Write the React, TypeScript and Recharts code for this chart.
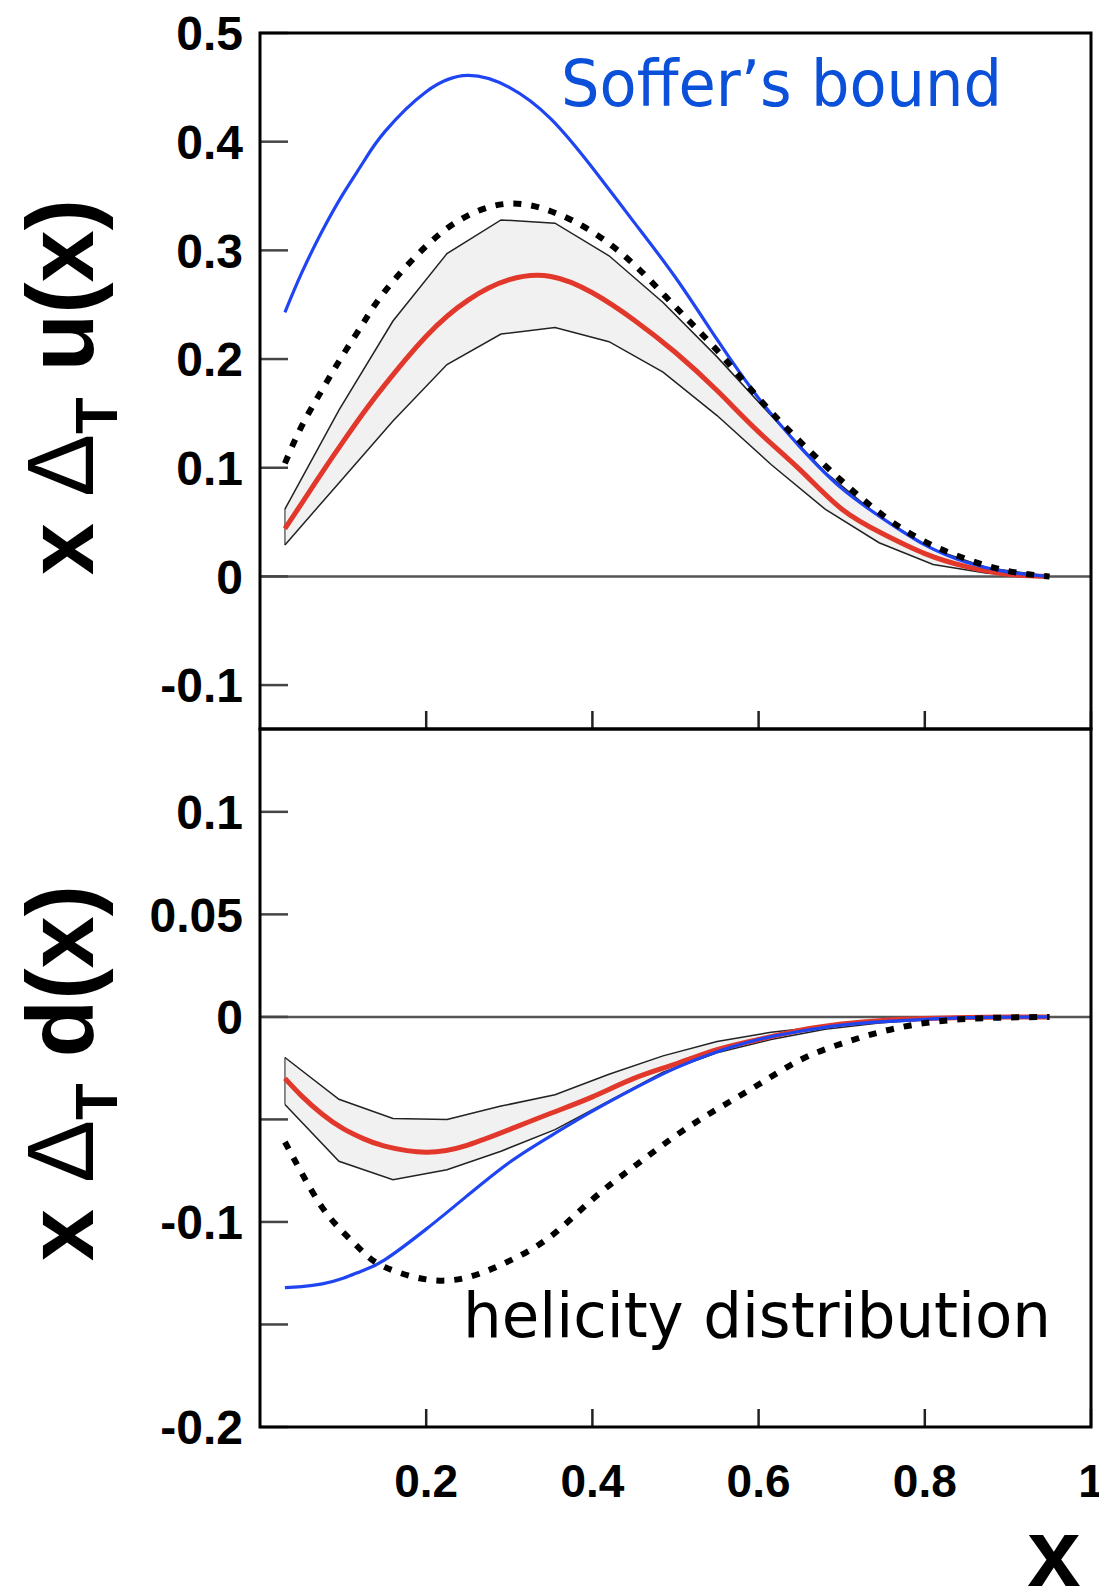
import React from "react";
import { ComposedChart, Line, Area, XAxis, YAxis, ReferenceLine, ReferenceArea } from "recharts";

const xGrid = [0.03, 0.05, 0.075, 0.1, 0.125, 0.15, 0.2, 0.25, 0.3, 0.35, 0.4, 0.45, 0.5, 0.55, 0.6, 0.65, 0.7, 0.75, 0.8, 0.85, 0.9, 0.95];
// x nodes of the error band (it is a polyline)
const bandX = [0.03, 0.095, 0.16, 0.225, 0.29, 0.355, 0.42, 0.485, 0.55, 0.615, 0.68, 0.745, 0.81, 0.875, 0.95];

// upper panel: x Delta_T u(x)
const sofferU = [0.243, 0.279, 0.318, 0.352, 0.382, 0.409, 0.446, 0.461, 0.45, 0.421, 0.376, 0.326, 0.275, 0.218, 0.164, 0.119, 0.081, 0.053, 0.029, 0.013, 0.004, 0];
const helicityU = [0.104, 0.138, 0.172, 0.204, 0.234, 0.262, 0.304, 0.332, 0.343, 0.336, 0.317, 0.287, 0.248, 0.208, 0.164, 0.124, 0.088, 0.056, 0.032, 0.016, 0.005, 0];
const centralU = [0.044, 0.067, 0.096, 0.124, 0.151, 0.176, 0.221, 0.254, 0.273, 0.276, 0.261, 0.236, 0.206, 0.171, 0.133, 0.098, 0.062, 0.039, 0.021, 0.009, 0.002, 0];
const bandHiU = [0.062, 0.153, 0.235, 0.297, 0.328, 0.325, 0.295, 0.252, 0.202, 0.148, 0.096, 0.055, 0.025, 0.008, 0];
const bandLoU = [0.029, 0.086, 0.143, 0.195, 0.223, 0.229, 0.216, 0.188, 0.148, 0.103, 0.062, 0.031, 0.011, 0.003, 0];

// lower panel: x Delta_T d(x)
const sofferD = [-0.132, -0.1315, -0.1302, -0.1275, -0.1235, -0.1185, -0.1035, -0.087, -0.071, -0.058, -0.046, -0.035, -0.025, -0.017, -0.011, -0.007, -0.004, -0.0023, -0.0012, -0.0004, -0.0001, 0];
const helicityD = [-0.061, -0.076, -0.093, -0.105, -0.115, -0.122, -0.128, -0.127, -0.119, -0.107, -0.089, -0.073, -0.058, -0.045, -0.033, -0.021, -0.013, -0.007, -0.003, -0.001, -0.0003, 0];
const centralD = [-0.03, -0.0385, -0.0475, -0.0545, -0.0595, -0.063, -0.066, -0.0625, -0.055, -0.047, -0.039, -0.03, -0.023, -0.016, -0.011, -0.0065, -0.0035, -0.0017, -0.0008, -0.0003, -0.0001, 0];
const bandHiD = [-0.0198, -0.0402, -0.0495, -0.05, -0.0435, -0.038, -0.028, -0.019, -0.012, -0.0075, -0.0045, -0.002, -0.0008, -0.0002, 0];
const bandLoD = [-0.0427, -0.0704, -0.0794, -0.0745, -0.0655, -0.055, -0.041, -0.027, -0.0175, -0.011, -0.006, -0.003, -0.0012, -0.0003, 0];

const xTicks = [0.2, 0.4, 0.6, 0.8, 1];
const xTickLabels = ["0.2", "0.4", "0.6", "0.8", "1"];
const uTicks = [-0.1, 0, 0.1, 0.2, 0.3, 0.4, 0.5];
const uTickLabels = ["-0.1", "0", "0.1", "0.2", "0.3", "0.4", "0.5"];
const dTicks = [-0.2, -0.15, -0.1, -0.05, 0, 0.05, 0.1];
const dTickLabels = ["-0.2", "", "-0.1", "", "0", "0.05", "0.1"];

const uDomain: [number, number] = [-0.1404, 0.5];
const dDomain: [number, number] = [-0.2, 0.1404];

const W = 1099;
const H = 1588;
const PLOT_LEFT = 260;
const PLOT_RIGHT = 1091;
const SANS = "'Liberation Sans', Arial, sans-serif";
const HAND = "'Comic Sans MS', 'DejaVu Sans', sans-serif";

const curveRows = (s: number[], h: number[], c: number[]) =>
    xGrid.map((x, i) => ({ x, soffer: s[i], helicity: h[i], central: c[i] }));
const bandRows = (lo: number[], hi: number[]) => bandX.map((x, i) => ({ x, lo: lo[i], hi: hi[i] }));

const uCurves = curveRows(sofferU, helicityU, centralU);
const dCurves = curveRows(sofferD, helicityD, centralD);
const uBand = bandRows(bandLoU, bandHiU);
const dBand = bandRows(bandLoD, bandHiD);

const labelFor = (values: number[], labels: string[], v: number) => {
    const i = values.findIndex((t) => Math.abs(t - v) < 1e-9);
    return i >= 0 ? labels[i] : "";
};

function YTick(props: any) {
    const { x, y, payload, values, labels } = props;
    const label = labelFor(values, labels, payload.value);
    return (
        <g>
            <line x1={x} x2={x + 28} y1={y} y2={y} stroke="#444" strokeWidth={2.5} />
            {label && (
                <text x={x - 17} y={y} dy="0.36em" textAnchor="end" fontSize={48} fontWeight="bold" fontFamily={SANS} fill="#000">
                    {label}
                </text>
            )}
        </g>
    );
}

function XTick(props: any) {
    const { x, y, payload, showLabels } = props;
    const label = labelFor(xTicks, xTickLabels, payload.value);
    return (
        <g>
            <line x1={x} x2={x} y1={y} y2={y - 18} stroke="#222" strokeWidth={2.5} />
            {showLabels && (
                <text x={x} y={y + 70} textAnchor="middle" fontSize={46} fontWeight="bold" fontFamily={SANS} fill="#000">
                    {label}
                </text>
            )}
        </g>
    );
}

type LayerProps = {
    data: any[];
    domain: [number, number];
    top: number;
    bottom: number;
    ticks?: { values: number[]; labels: string[]; xLabels: boolean };
    children: React.ReactNode;
};

function Layer({ data, domain, top, bottom, ticks, children }: LayerProps) {
    return (
        <div style={{ position: "absolute", left: 0, top: 0 }}>
            <ComposedChart
                width={W}
                height={H}
                data={data}
                margin={{ top, right: W - PLOT_RIGHT, bottom: H - bottom - 1, left: 0 }}
            >
                <XAxis
                    type="number"
                    dataKey="x"
                    domain={[0, 1]}
                    ticks={xTicks}
                    interval={0}
                    height={1}
                    axisLine={false}
                    tickLine={false}
                    tickSize={0}
                    tickMargin={0}
                    allowDataOverflow
                    tick={ticks ? (p: any) => <XTick {...p} showLabels={ticks.xLabels} /> : false}
                />
                <YAxis
                    type="number"
                    domain={domain}
                    ticks={ticks ? ticks.values : undefined}
                    interval={0}
                    width={PLOT_LEFT}
                    axisLine={false}
                    tickLine={false}
                    tickSize={0}
                    tickMargin={0}
                    allowDataOverflow
                    tick={ticks ? (p: any) => <YTick {...p} values={ticks.values} labels={ticks.labels} /> : false}
                />
                {children}
            </ComposedChart>
        </div>
    );
}

function bandSeries(lo: number[], hi: number[]) {
    return [
        <Area
            key="band"
            type="linear"
            dataKey={(d: any) => [d.lo, d.hi]}
            fill="#f1f1f1"
            fillOpacity={1}
            stroke="none"
            isAnimationActive={false}
        />,
        <ReferenceLine key="zero" y={0} stroke="#555" strokeWidth={2.5} />,
        <ReferenceLine
            key="edge"
            segment={[{ x: bandX[0], y: lo[0] }, { x: bandX[0], y: hi[0] }]}
            stroke="#666"
            strokeWidth={1.5}
        />,
        <Line key="lo" type="linear" dataKey="lo" stroke="#222" strokeWidth={1.5} dot={false} activeDot={false} isAnimationActive={false} />,
        <Line key="hi" type="linear" dataKey="hi" stroke="#222" strokeWidth={1.5} dot={false} activeDot={false} isAnimationActive={false} />,
    ];
}

function curveSeries(domain: [number, number]) {
    return [
        <Line key="central" type="natural" dataKey="central" stroke="#e2372b" strokeWidth={5} dot={false} activeDot={false} isAnimationActive={false} />,
        <Line key="soffer" type="natural" dataKey="soffer" stroke="#1f45f2" strokeWidth={3.2} dot={false} activeDot={false} isAnimationActive={false} />,
        <Line
            key="helicity"
            type="natural"
            dataKey="helicity"
            stroke="#000"
            strokeWidth={6}
            strokeDasharray="8 10"
            dot={false}
            activeDot={false}
            isAnimationActive={false}
        />,
        <ReferenceArea key="frame" x1={0} x2={1} y1={domain[0]} y2={domain[1]} fill="none" stroke="#000" strokeWidth={3} ifOverflow="visible" />,
    ];
}

function AxisTitle({ cy, letter }: { cy: number; letter: string }) {
    return (
        <text
            transform={`translate(93, ${cy}) rotate(-90)`}
            textAnchor="middle"
            fontSize={94}
            fontWeight="bold"
            fontFamily={SANS}
            fill="#000"
        >
            x <tspan fontWeight="normal">Δ</tspan>
            <tspan fontSize={60} dy={24}>T</tspan>
            <tspan dy={-24}> {letter}(x)</tspan>
        </text>
    );
}

export default function App() {
    return (
        <div style={{ position: "absolute", left: 0, top: 0, width: W, height: H, background: "#fff", overflow: "hidden" }}>
            <Layer data={uBand} domain={uDomain} top={33} bottom={729} ticks={{ values: uTicks, labels: uTickLabels, xLabels: false }}>
                {bandSeries(bandLoU, bandHiU)}
            </Layer>
            <Layer data={uCurves} domain={uDomain} top={33} bottom={729}>
                {curveSeries(uDomain)}
            </Layer>
            <Layer data={dBand} domain={dDomain} top={729} bottom={1427} ticks={{ values: dTicks, labels: dTickLabels, xLabels: true }}>
                {bandSeries(bandLoD, bandHiD)}
            </Layer>
            <Layer data={dCurves} domain={dDomain} top={729} bottom={1427}>
                {curveSeries(dDomain)}
            </Layer>
            <svg width={W} height={H} style={{ position: "absolute", left: 0, top: 0, pointerEvents: "none" }}>
                <AxisTitle cy={387} letter="u" />
                <AxisTitle cy={1073} letter="d" />
                <text x={561} y={106} fontSize={64} fontFamily={HAND} fill="#0a50d8" textLength={441} lengthAdjust="spacingAndGlyphs">
                    Soffer’s bound
                </text>
                <text x={463} y={1337} fontSize={62} fontFamily={HAND} fill="#000" textLength={588} lengthAdjust="spacingAndGlyphs">
                    helicity distribution
                </text>
                <text x={1054} y={1586} textAnchor="middle" fontSize={96} fontWeight="bold" fontFamily={SANS} fill="#000">
                    x
                </text>
            </svg>
        </div>
    );
}
